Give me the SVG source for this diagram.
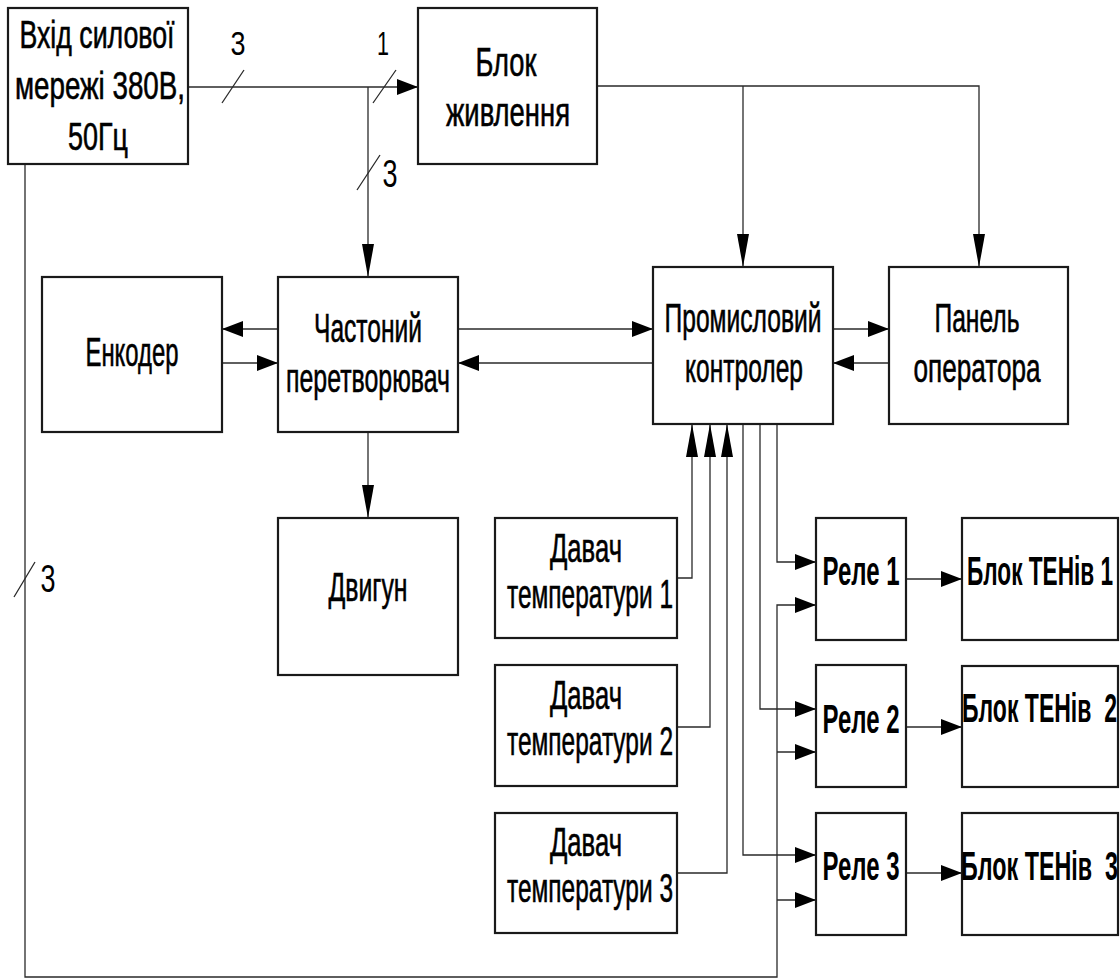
<svg xmlns="http://www.w3.org/2000/svg" width="1120" height="978" viewBox="0 0 1120 978">
<style>
.box{fill:#fff;stroke:#1a1a1a;stroke-width:2.2}
.ln{fill:none;stroke:#2a2a2a;stroke-width:1.3}
.t{font-family:"Liberation Sans",Arial,sans-serif;font-size:40px;fill:#000;stroke:#000;stroke-width:0.6;text-anchor:middle}
.s{font-size:38px}
.b{font-weight:bold;stroke-width:0}
.lb{font-family:"Liberation Sans",Arial,sans-serif;fill:#000;text-anchor:middle}
</style>
<defs>
<marker id="ah" markerUnits="userSpaceOnUse" markerWidth="21" markerHeight="16" viewBox="0 0 21 16" refX="21" refY="8" orient="auto"><path d="M0,0 L21,8 L0,16 z" fill="#000"/></marker>
<marker id="av" markerUnits="userSpaceOnUse" markerWidth="33" markerHeight="12" viewBox="0 0 33 12" refX="33" refY="6" orient="auto"><path d="M0,0 L33,6 L0,12 z" fill="#000"/></marker>
</defs>
<rect width="1120" height="978" fill="#fff"/>
<g id="connectors">
<path class="ln" d="M188,87 H418" marker-end="url(#ah)"/>
<path class="ln" d="M368,87 V277" marker-end="url(#av)"/>
<path class="ln" d="M597,86 H979 V267" marker-end="url(#av)"/>
<path class="ln" d="M743,86 V267" marker-end="url(#av)"/>
<path class="ln" d="M278,329 H222" marker-end="url(#ah)"/>
<path class="ln" d="M222,363 H278" marker-end="url(#ah)"/>
<path class="ln" d="M458,329 H653" marker-end="url(#ah)"/>
<path class="ln" d="M653,363 H458" marker-end="url(#ah)"/>
<path class="ln" d="M833,329 H889" marker-end="url(#ah)"/>
<path class="ln" d="M889,363 H833" marker-end="url(#ah)"/>
<path class="ln" d="M368,432 V518" marker-end="url(#av)"/>
<path class="ln" d="M677,578 H692 V424" marker-end="url(#av)"/>
<path class="ln" d="M677,727 H710 V424" marker-end="url(#av)"/>
<path class="ln" d="M677,873 H727 V424" marker-end="url(#av)"/>
<path class="ln" d="M777,424 V562 H816" marker-end="url(#ah)"/>
<path class="ln" d="M760,424 V709 H816" marker-end="url(#ah)"/>
<path class="ln" d="M743,424 V855 H816" marker-end="url(#ah)"/>
<path class="ln" d="M25,164 V977 H777 V605 H816" marker-end="url(#ah)"/>
<path class="ln" d="M777,752 H816" marker-end="url(#ah)"/>
<path class="ln" d="M777,900 H816" marker-end="url(#ah)"/>
<path class="ln" d="M906,579 H962" marker-end="url(#ah)"/>
<path class="ln" d="M906,727 H962" marker-end="url(#ah)"/>
<path class="ln" d="M906,873 H962" marker-end="url(#ah)"/>
<path class="ln" d="M222,103 L244,70 M373,103 L396,70 M357,190 L380,155 M14,597 L35,562"/>
<text class="lb" x="238" y="55" font-size="34" textLength="15" lengthAdjust="spacingAndGlyphs">3</text>
<text class="lb" x="383" y="55" font-size="34" textLength="12" lengthAdjust="spacingAndGlyphs">1</text>
<text class="lb" x="390" y="187" font-size="38" textLength="15" lengthAdjust="spacingAndGlyphs">3</text>
<text class="lb" x="48" y="592" font-size="38" textLength="15" lengthAdjust="spacingAndGlyphs">3</text>
</g>
<g id="input">
<rect class="box" x="8" y="8" width="180" height="156"/>
<text class="t s" x="97" y="48" textLength="155" lengthAdjust="spacingAndGlyphs">Вхід силової</text>
<text class="t s" x="100" y="99" textLength="170" lengthAdjust="spacingAndGlyphs">мережі 380В,</text>
<text class="t s" x="98" y="150" textLength="60" lengthAdjust="spacingAndGlyphs">50Гц</text>
</g>
<g id="power">
<rect class="box" x="418" y="8" width="179" height="156"/>
<text class="t" x="506" y="76" textLength="61" lengthAdjust="spacingAndGlyphs">Блок</text>
<text class="t" x="508" y="126" textLength="124" lengthAdjust="spacingAndGlyphs">живлення</text>
</g>
<g id="encoder">
<rect class="box" x="42" y="277" width="180" height="155"/>
<text class="t" x="132" y="366" textLength="93" lengthAdjust="spacingAndGlyphs">Енкодер</text>
</g>
<g id="inverter">
<rect class="box" x="278" y="277" width="180" height="155"/>
<text class="t" x="368" y="342" textLength="108" lengthAdjust="spacingAndGlyphs">Частоний</text>
<text class="t" x="368" y="392" textLength="164" lengthAdjust="spacingAndGlyphs">перетворювач</text>
</g>
<g id="motor">
<rect class="box" x="278" y="518" width="180" height="157"/>
<text class="t" x="368" y="601" textLength="79" lengthAdjust="spacingAndGlyphs">Двигун</text>
</g>
<g id="plc">
<rect class="box" x="653" y="267" width="180" height="157"/>
<text class="t" x="743" y="332" textLength="157" lengthAdjust="spacingAndGlyphs">Промисловий</text>
<text class="t" x="744" y="382" textLength="118" lengthAdjust="spacingAndGlyphs">контролер</text>
</g>
<g id="panel">
<rect class="box" x="889" y="267" width="179" height="157"/>
<text class="t" x="977" y="332" textLength="85" lengthAdjust="spacingAndGlyphs">Панель</text>
<text class="t" x="977" y="382" textLength="127" lengthAdjust="spacingAndGlyphs">оператора</text>
</g>
<g id="sensor1">
<rect class="box" x="495" y="518" width="182" height="120"/>
<text class="t" x="586" y="562" textLength="72" lengthAdjust="spacingAndGlyphs">Давач</text>
<text class="t" x="590" y="608" textLength="166" lengthAdjust="spacingAndGlyphs">температури 1</text>
</g>
<g id="sensor2">
<rect class="box" x="495" y="665" width="182" height="121"/>
<text class="t" x="586" y="709" textLength="72" lengthAdjust="spacingAndGlyphs">Давач</text>
<text class="t" x="590" y="755" textLength="166" lengthAdjust="spacingAndGlyphs">температури 2</text>
</g>
<g id="sensor3">
<rect class="box" x="495" y="813" width="182" height="120"/>
<text class="t" x="586" y="856" textLength="72" lengthAdjust="spacingAndGlyphs">Давач</text>
<text class="t" x="590" y="902" textLength="166" lengthAdjust="spacingAndGlyphs">температури 3</text>
</g>
<g id="relay1">
<rect class="box" x="816" y="518" width="90" height="122"/>
<text class="t b" x="861" y="585" textLength="77" lengthAdjust="spacingAndGlyphs">Реле 1</text>
</g>
<g id="relay2">
<rect class="box" x="816" y="665" width="90" height="122"/>
<text class="t b" x="861" y="733" textLength="77" lengthAdjust="spacingAndGlyphs">Реле 2</text>
</g>
<g id="relay3">
<rect class="box" x="816" y="813" width="90" height="122"/>
<text class="t b" x="861" y="880" textLength="77" lengthAdjust="spacingAndGlyphs">Реле 3</text>
</g>
<g id="heater1">
<rect class="box" x="962" y="518" width="156" height="122"/>
<text class="t b" x="1040" y="585" textLength="146" lengthAdjust="spacingAndGlyphs">Блок ТЕНів 1</text>
</g>
<g id="heater2">
<rect class="box" x="962" y="666" width="156" height="121"/>
<text class="t b" x="962" y="722" style="text-anchor:start" xml:space="preserve" textLength="155" lengthAdjust="spacingAndGlyphs">Блок ТЕНів  2</text>
</g>
<g id="heater3">
<rect class="box" x="962" y="813" width="156" height="122"/>
<text class="t b" x="961" y="880" style="text-anchor:start" xml:space="preserve" textLength="157" lengthAdjust="spacingAndGlyphs">Блок ТЕНів  3</text>
</g>
</svg>
